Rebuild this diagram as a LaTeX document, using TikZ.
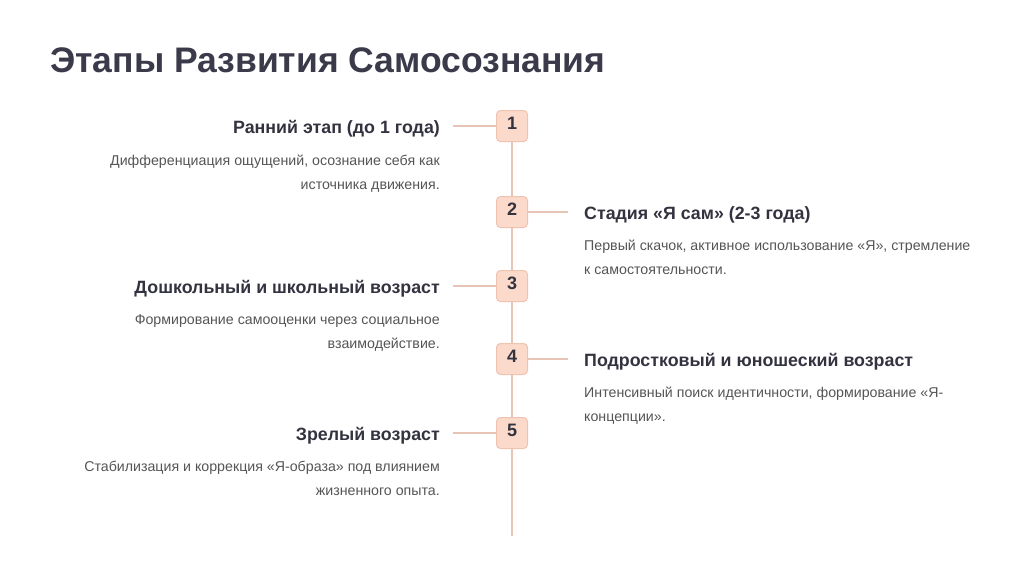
\documentclass[tikz,border=0pt]{standalone}
\usepackage{fontspec}
\setmainfont{Liberation Sans}
\definecolor{titlec}{HTML}{3A3A4A}
\definecolor{headc}{HTML}{333340}
\definecolor{descc}{HTML}{555555}
\definecolor{linec}{HTML}{E8C4B6}
\definecolor{boxfill}{HTML}{FCDACB}
\definecolor{boxdraw}{HTML}{F0C2B0}
\tikzset{
  numbox/.style={draw=boxdraw, line width=1pt, fill=boxfill, rounded corners=4pt, minimum width=31pt, minimum height=31pt, inner sep=0pt},
  numtext/.style={font=\fontsize{18}{18}\selectfont\bfseries, text=headc, inner sep=0pt, anchor=base},
  conn/.style={draw=linec, line width=1.5pt},
  headl/.style={font=\fontsize{17.8}{20}\selectfont\bfseries, text=headc, inner sep=0pt, anchor=base east},
  headr/.style={font=\fontsize{17.8}{20}\selectfont\bfseries, text=headc, inner sep=0pt, anchor=base west},
  descl/.style={font=\fontsize{14.2}{24}\selectfont, text=descc, inner sep=0pt, anchor=base east, align=right},
  descr/.style={font=\fontsize{14.2}{24}\selectfont, text=descc, inner sep=0pt, anchor=base west, align=left},
}
\begin{document}
\begin{tikzpicture}[x=1pt,y=-1pt]
\useasboundingbox[fill=white] (0,0) rectangle (1024,574);
\node[font=\fontsize{35.5}{36}\selectfont\bfseries, text=titlec, inner sep=0pt, anchor=base west] (title) at (50,72) {Этапы Развития Самосознания};
\coordinate (lineend) at (512,536);
% boxes
\node[numbox] (b1) at (512,126) {};
\node[numbox] (b2) at (512,212) {};
\node[numbox] (b3) at (512,286) {};
\node[numbox] (b4) at (512,359) {};
\node[numbox] (b5) at (512,433) {};
% vertical line
\draw[conn] (b1.south) -- (b2.north);
\draw[conn] (b2.south) -- (b3.north);
\draw[conn] (b3.south) -- (b4.north);
\draw[conn] (b4.south) -- (b5.north);
\draw[conn] (b5.south) -- (lineend);
% numbers
\node[numtext] (n1) at (512,129) {1};
\node[numtext] (n2) at (512,215) {2};
\node[numtext] (n3) at (512,289) {3};
\node[numtext] (n4) at (512,362) {4};
\node[numtext] (n5) at (512,436) {5};
% connector end points
\coordinate (c1) at (453,126);
\coordinate (c2) at (568,212);
\coordinate (c3) at (453,286);
\coordinate (c4) at (568,359);
\coordinate (c5) at (453,433);
\draw[conn] (c1) -- (b1.west);
\draw[conn] (b2.east) -- (c2);
\draw[conn] (c3) -- (b3.west);
\draw[conn] (b4.east) -- (c4);
\draw[conn] (c5) -- (b5.west);
% headings
\node[headl] (h1) at (440,133) {Ранний этап (до 1 года)};
\node[headr] (h2) at (584,219) {Стадия «Я сам» (2-3 года)};
\node[headl] (h3) at (440,293) {Дошкольный и школьный возраст};
\node[headr] (h4) at (584,366) {Подростковый и юношеский возраст};
\node[headl] (h5) at (440,440) {Зрелый возраст};
% descriptions (base anchor = last line)
\node[descl] (d1) at (440,189) {Дифференциация ощущений, осознание себя как\\источника движения.};
\node[descr] (d2) at (584,274) {Первый скачок, активное использование «Я», стремление\\к самостоятельности.};
\node[descl] (d3) at (440,348) {Формирование самооценки через социальное\\взаимодействие.};
\node[descr] (d4) at (584,421) {Интенсивный поиск идентичности, формирование «Я-\\концепции».};
\node[descl] (d5) at (440,495) {Стабилизация и коррекция «Я-образа» под влиянием\\жизненного опыта.};
\end{tikzpicture}
\end{document}
